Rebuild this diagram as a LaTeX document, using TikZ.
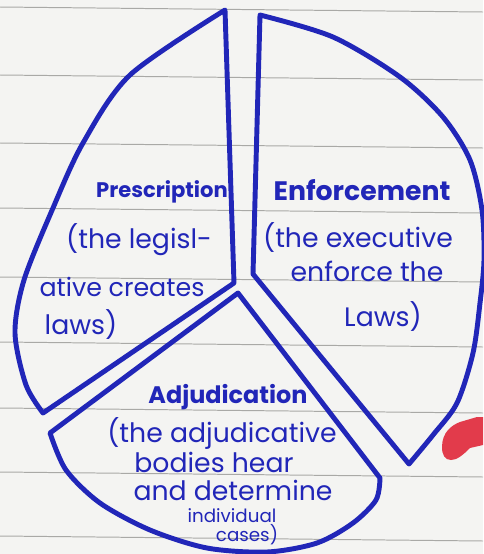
\documentclass[tikz,border=0pt]{standalone}
\usepackage{fontspec}
\setmainfont{Poppins}
\definecolor{cpen}{HTML}{2126B8}
\definecolor{cpaper}{HTML}{F4F4F2}
\definecolor{cline}{HTML}{A9A9A6}
\definecolor{cred}{HTML}{E23B4B}
\tikzset{
  hand/.style={text=cpen, inner sep=0pt, font=\fontsize{19}{22}\selectfont},
  ttl/.style={hand, font=\fontsize{15}{18}\selectfont\bfseries},
  tiny/.style={hand, font=\fontsize{13}{15}\selectfont},
  pen/.style={draw=cpen, line width=3.5pt, line join=round, line cap=round},
  rule/.style={draw=cline, line width=0.7pt},
}
\begin{document}
\begin{tikzpicture}[x=0.025cm, y=-0.025cm]
\useasboundingbox (0,0) rectangle (483,554);
% paper
\fill[cpaper] (0,0) rectangle (483,554);
\foreach \y in {7,75,143,208,277,342,408,472,536}
  \draw[rule] (0,\y) -- (483,\y+5);
% corners
\coordinate (pTop) at (225,10);
\coordinate (pMid) at (234,283);
\coordinate (pLow) at (43,413);
\coordinate (eTop) at (260,15);
\coordinate (eMid) at (253,274);
\coordinate (eLow) at (409,464);
\coordinate (aTop) at (238,293);
\coordinate (aLeft) at (50,433);
\coordinate (aRight) at (380,478);
% prescription sector
\draw[pen] plot[smooth] coordinates {(pLow) (26,385) (15,333) (24,280) (53,208) (83,143) (130,75) (pTop)} -- (pMid) -- cycle;
% enforcement sector
\draw[pen] plot[smooth] coordinates {(eTop) (333,37) (400,77) (443,117) (470,160) (482,210) (484,260) (480,303) (473,353) (457,403) (433,435) (eLow)} -- (eMid) -- cycle;
% adjudication sector
\draw[pen] plot[smooth] coordinates {(aLeft) (66,470) (100,503) (150,530) (207,548) (267,552) (317,543) (353,523) (376,500) (aRight)} -- (aTop) -- cycle;
% marker smudge
\fill[cred] (442,447) .. controls (442,432) and (452,425) .. (460,422) -- (477,417) -- (483,417) -- (483,445) -- (470,448) .. controls (463,455) and (457,460) .. (451,460) .. controls (445,460) and (442,455) .. (442,447) -- cycle;
% texts
\node[ttl] (pre1) at (162,192) {Prescription};
\node[hand] (pre2) at (139,240) {(the legisl-};
\node[hand, font=\fontsize{18}{21}\selectfont] (pre3) at (122,287) {ative creates};
\node[hand] (pre4) at (81,325) {laws)};
\node[ttl, font=\fontsize{19}{22}\selectfont\bfseries] (enf1) at (362,190) {Enforcement};
\node[hand] (enf2) at (358,238) {(the executive};
\node[hand] (enf3) at (367,271) {enforce the};
\node[hand] (enf4) at (383,317) {Laws)};
\node[ttl, font=\fontsize{17}{20}\selectfont\bfseries] (adj1) at (228,397) {Adjudication};
\node[hand] (adj2) at (222,433) {(the adjudicative};
\node[hand] (adj3) at (214,462) {bodies hear};
\node[hand] (adj4) at (233,490) {and determine};
\node[tiny] (adj5) at (232,516) {individual};
\node[tiny] (adj6) at (247,535) {cases)};
\end{tikzpicture}
\end{document}
